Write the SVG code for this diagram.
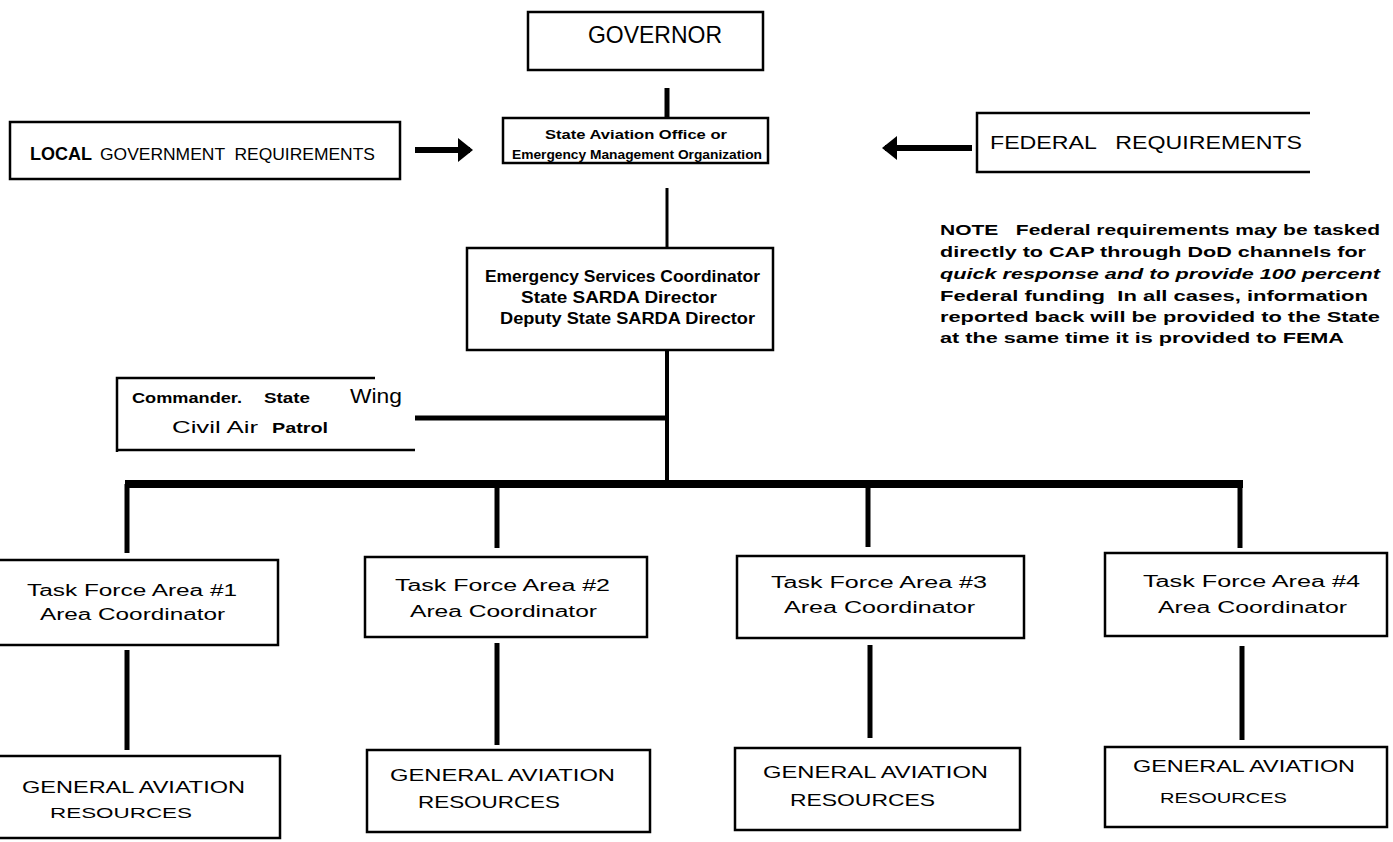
<svg xmlns="http://www.w3.org/2000/svg" width="1393" height="842" viewBox="0 0 1393 842">
<style>
.box{fill:none;stroke:#000;stroke-width:2.5}
.ln{stroke:#000;fill:none;stroke-linecap:butt}
.t{font-family:"Liberation Sans",Arial,Helvetica,sans-serif;fill:#000}
.b{font-weight:bold}
.r{font-weight:normal}
</style>
<defs>
<marker id="ah" markerWidth="4" markerHeight="4" refX="2" refY="2" orient="auto" markerUnits="strokeWidth">
<path d="M0,0 L2.5,2 L0,4 Z" fill="#000"/>
</marker>
</defs>
<rect width="1393" height="842" fill="#fff"/>

<g id="connectors">
<line class="ln" x1="667" y1="88" x2="667" y2="119" stroke-width="5"/>
<line class="ln" x1="415" y1="150" x2="470" y2="150" stroke-width="6" marker-end="url(#ah)"/>
<line class="ln" x1="972" y1="148" x2="885" y2="148" stroke-width="6" marker-end="url(#ah)"/>
<line class="ln" x1="667" y1="188" x2="667" y2="248" stroke-width="3"/>
<line class="ln" x1="667" y1="350" x2="667" y2="484" stroke-width="4"/>
<line class="ln" x1="415" y1="418" x2="667" y2="418" stroke-width="5"/>
<line class="ln" x1="125" y1="484" x2="1243" y2="484" stroke-width="8"/>
<line class="ln" x1="127" y1="484" x2="127" y2="553" stroke-width="5"/>
<line class="ln" x1="497" y1="484" x2="497" y2="548" stroke-width="5"/>
<line class="ln" x1="868" y1="484" x2="868" y2="547" stroke-width="5"/>
<line class="ln" x1="1240" y1="484" x2="1240" y2="548" stroke-width="5"/>
<line class="ln" x1="127" y1="650" x2="127" y2="750" stroke-width="5"/>
<line class="ln" x1="497" y1="643" x2="497" y2="745" stroke-width="5"/>
<line class="ln" x1="870" y1="645" x2="870" y2="738" stroke-width="5"/>
<line class="ln" x1="1242" y1="646" x2="1242" y2="740" stroke-width="5"/>
</g>

<g id="governor">
<rect class="box" x="528" y="12" width="235" height="58"/>
<text class="t r" x="588" y="43" font-size="24" textLength="134" lengthAdjust="spacingAndGlyphs">GOVERNOR</text>
</g>

<g id="state-office">
<rect class="box" x="503" y="118" width="265" height="45"/>
<text class="t b" x="545" y="139" font-size="13" textLength="182" lengthAdjust="spacingAndGlyphs">State Aviation Office or</text>
<text class="t b" x="512" y="159" font-size="13" textLength="250" lengthAdjust="spacingAndGlyphs">Emergency Management Organization</text>
</g>

<g id="local">
<rect class="box" x="10" y="122" width="390" height="57"/>
<text class="t b" x="30" y="160" font-size="19" textLength="62" lengthAdjust="spacingAndGlyphs">LOCAL</text>
<text class="t r" x="100" y="160" font-size="17" textLength="275" lengthAdjust="spacingAndGlyphs" xml:space="preserve">GOVERNMENT  REQUIREMENTS</text>
</g>

<g id="federal">
<path class="box" d="M1310,113 H977 V172 H1310"/>
<text class="t r" x="990" y="149" font-size="18" textLength="312" lengthAdjust="spacingAndGlyphs" xml:space="preserve">FEDERAL   REQUIREMENTS</text>
</g>

<g id="note">
<text class="t b" x="940" y="235" font-size="15" textLength="440" lengthAdjust="spacingAndGlyphs" xml:space="preserve">NOTE   Federal requirements may be tasked</text>
<text class="t b" x="940" y="257" font-size="15" textLength="426" lengthAdjust="spacingAndGlyphs">directly to CAP through DoD channels for</text>
<text class="t b" x="940" y="279" font-size="15" textLength="440" lengthAdjust="spacingAndGlyphs" font-style="italic">quick response and to provide 100 percent</text>
<text class="t b" x="940" y="301" font-size="15" textLength="428" lengthAdjust="spacingAndGlyphs" xml:space="preserve">Federal funding  In all cases, information</text>
<text class="t b" x="940" y="322" font-size="15" textLength="440" lengthAdjust="spacingAndGlyphs">reported back will be provided to the State</text>
<text class="t b" x="940" y="343" font-size="15" textLength="404" lengthAdjust="spacingAndGlyphs">at the same time it is provided to FEMA</text>
</g>

<g id="esc">
<rect class="box" x="467" y="248" width="306" height="102"/>
<text class="t b" x="485" y="282" font-size="16" textLength="275" lengthAdjust="spacingAndGlyphs">Emergency Services Coordinator</text>
<text class="t b" x="521" y="303" font-size="16" textLength="196" lengthAdjust="spacingAndGlyphs">State SARDA Director</text>
<text class="t b" x="500" y="324" font-size="16" textLength="255" lengthAdjust="spacingAndGlyphs">Deputy State SARDA Director</text>
</g>

<g id="commander">
<path class="box" d="M375,378 H117 V452 M117,450 H415"/>
<text class="t b" x="132" y="403" font-size="14" textLength="110" lengthAdjust="spacingAndGlyphs">Commander.</text>
<text class="t b" x="264" y="403" font-size="14" textLength="46" lengthAdjust="spacingAndGlyphs">State</text>
<text class="t r" x="350" y="403" font-size="20" textLength="52" lengthAdjust="spacingAndGlyphs">Wing</text>
<text class="t r" x="172" y="433" font-size="16" textLength="86" lengthAdjust="spacingAndGlyphs">Civil Air</text>
<text class="t b" x="272" y="433" font-size="14" textLength="56" lengthAdjust="spacingAndGlyphs">Patrol</text>
</g>

<g id="tf1">
<rect class="box" x="-2" y="560" width="280" height="85"/>
<text class="t r" x="27" y="596" font-size="16" textLength="210" lengthAdjust="spacingAndGlyphs">Task Force Area #1</text>
<text class="t r" x="40" y="620" font-size="16" textLength="185" lengthAdjust="spacingAndGlyphs">Area Coordinator</text>
</g>
<g id="tf2">
<rect class="box" x="365" y="557" width="282" height="80"/>
<text class="t r" x="395" y="591" font-size="16" textLength="215" lengthAdjust="spacingAndGlyphs">Task Force Area #2</text>
<text class="t r" x="410" y="617" font-size="16" textLength="187" lengthAdjust="spacingAndGlyphs">Area Coordinator</text>
</g>
<g id="tf3">
<rect class="box" x="737" y="556" width="287" height="82"/>
<text class="t r" x="771" y="588" font-size="16" textLength="216" lengthAdjust="spacingAndGlyphs">Task Force Area #3</text>
<text class="t r" x="784" y="613" font-size="16" textLength="191" lengthAdjust="spacingAndGlyphs">Area Coordinator</text>
</g>
<g id="tf4">
<rect class="box" x="1105" y="553" width="282" height="83"/>
<text class="t r" x="1143" y="587" font-size="16" textLength="217" lengthAdjust="spacingAndGlyphs">Task Force Area #4</text>
<text class="t r" x="1158" y="613" font-size="16" textLength="189" lengthAdjust="spacingAndGlyphs">Area Coordinator</text>
</g>

<g id="ga1">
<rect class="box" x="-2" y="756" width="282" height="82"/>
<text class="t r" x="22" y="793" font-size="17" textLength="223" lengthAdjust="spacingAndGlyphs">GENERAL AVIATION</text>
<text class="t r" x="50" y="818" font-size="15" textLength="142" lengthAdjust="spacingAndGlyphs">RESOURCES</text>
</g>
<g id="ga2">
<rect class="box" x="367" y="750" width="283" height="82"/>
<text class="t r" x="390" y="781" font-size="17" textLength="225" lengthAdjust="spacingAndGlyphs">GENERAL AVIATION</text>
<text class="t r" x="418" y="808" font-size="17" textLength="142" lengthAdjust="spacingAndGlyphs">RESOURCES</text>
</g>
<g id="ga3">
<rect class="box" x="735" y="748" width="285" height="82"/>
<text class="t r" x="763" y="778" font-size="17" textLength="225" lengthAdjust="spacingAndGlyphs">GENERAL AVIATION</text>
<text class="t r" x="790" y="806" font-size="17" textLength="145" lengthAdjust="spacingAndGlyphs">RESOURCES</text>
</g>
<g id="ga4">
<rect class="box" x="1105" y="747" width="282" height="80"/>
<text class="t r" x="1133" y="772" font-size="17" textLength="222" lengthAdjust="spacingAndGlyphs">GENERAL AVIATION</text>
<text class="t r" x="1160" y="803" font-size="15" textLength="127" lengthAdjust="spacingAndGlyphs">RESOURCES</text>
</g>
</svg>
